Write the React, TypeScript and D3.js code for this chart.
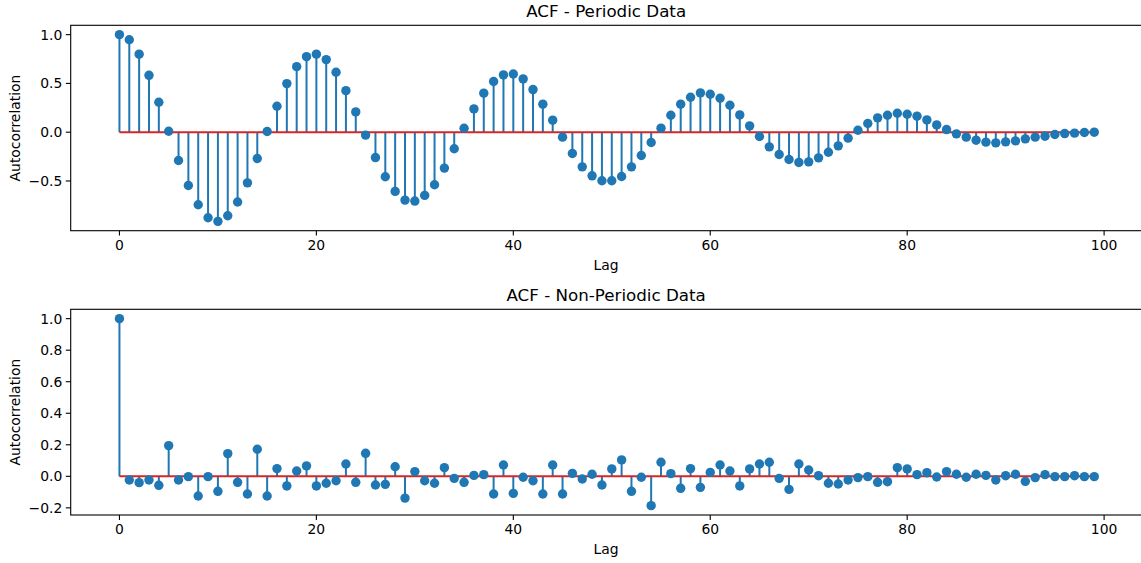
import React from "react";
import * as d3 from "d3";

const lags: number[] = Array.from({ length: 100 }, (_, i) => i);

const periodicAcf: number[] = [
  1.0, 0.948, 0.8, 0.583, 0.307, 0.01, -0.29, -0.546, -0.744, -0.877,
  -0.914, -0.856, -0.716, -0.519, -0.27, 0.007, 0.266, 0.498, 0.672, 0.774,
  0.8, 0.744, 0.614, 0.426, 0.208, -0.03, -0.26, -0.457, -0.607, -0.696,
  -0.706, -0.648, -0.539, -0.368, -0.17, 0.04, 0.239, 0.4, 0.52, 0.587,
  0.597, 0.546, 0.437, 0.287, 0.123, -0.051, -0.218, -0.355, -0.447, -0.498,
  -0.498, -0.454, -0.355, -0.239, -0.106, 0.041, 0.174, 0.287, 0.358, 0.403,
  0.389, 0.348, 0.276, 0.177, 0.065, -0.044, -0.15, -0.229, -0.28, -0.31,
  -0.304, -0.263, -0.206, -0.14, -0.061, 0.02, 0.089, 0.147, 0.174, 0.194,
  0.184, 0.164, 0.126, 0.075, 0.027, -0.017, -0.051, -0.082, -0.102, -0.109,
  -0.099, -0.089, -0.068, -0.051, -0.041, -0.024, -0.014, -0.01, -0.003, 0.0,
];

const nonPeriodicAcf: number[] = [
  1.0, -0.023, -0.04, -0.023, -0.057, 0.195, -0.023, -0.002, -0.125, -0.002,
  -0.095, 0.144, -0.038, -0.112, 0.172, -0.125, 0.049, -0.061, 0.034, 0.066,
  -0.061, -0.044, -0.028, 0.078, -0.038, 0.146, -0.055, -0.051, 0.061, -0.138,
  0.03, -0.028, -0.044, 0.055, -0.013, -0.038, 0.006, 0.011, -0.112, 0.072,
  -0.108, -0.006, -0.028, -0.112, 0.072, -0.112, 0.019, -0.017, 0.013, -0.055,
  0.047, 0.104, -0.095, -0.006, -0.186, 0.089, 0.017, -0.076, 0.049, -0.07,
  0.025, 0.072, 0.034, -0.061, 0.047, 0.078, 0.089, -0.013, -0.083, 0.078,
  0.04, 0.004, -0.044, -0.049, -0.023, -0.008, -0.002, -0.038, -0.034, 0.055,
  0.047, 0.011, 0.023, -0.004, 0.03, 0.013, -0.006, 0.013, 0.006, -0.023,
  0.004, 0.013, -0.032, -0.008, 0.011, -0.002, -0.002, 0.004, -0.002, -0.002,
];

const xTicks: number[] = [0, 20, 40, 60, 80, 100];
const periodicYTicks: number[] = [-0.5, 0.0, 0.5, 1.0];
const nonPeriodicYTicks: number[] = [-0.2, 0.0, 0.2, 0.4, 0.6, 0.8, 1.0];

const FONT = "'DejaVu Sans', sans-serif";
const BLUE = "#1f77b4";
const RED = "#d62728";

type PanelProps = {
  title: string;
  values: number[];
  yTicks: number[];
  top: number;
  bottom: number;
};

function Panel({ title, values, yTicks, top, bottom }: PanelProps) {
  const left = 70.7;
  const right = 1143;
  const xMin = d3.min(lags)!;
  const xMax = d3.max(lags)!;
  const xm = (xMax - xMin) * 0.05;
  const x = d3.scaleLinear().domain([xMin - xm, xMax + xm]).range([left, right]);
  const yMin = d3.min(values)!;
  const yMax = d3.max(values)!;
  const ym = (yMax - yMin) * 0.05;
  const y = d3.scaleLinear().domain([yMin - ym, yMax + ym]).range([bottom, top]);
  const fmt = d3.format(".1f");
  const tl = 4.9;
  const midY = (top + bottom) / 2;
  const midX = (left + 1141.6) / 2;
  const fmtMinus = (v: number) => fmt(v).replace("-", "\u2212");

  return (
    <g>
      <text x={midX} y={top - 8.5} textAnchor="middle" fontSize={16.7} fontFamily={FONT} fill="#000">
        {title}
      </text>
      {lags.map((l, i) => (
        <line key={"s" + i} x1={x(l)} x2={x(l)} y1={y(0)} y2={y(values[i])} stroke={BLUE} strokeWidth={2} />
      ))}
      <line x1={x(xMin)} x2={x(xMax)} y1={y(0)} y2={y(0)} stroke={RED} strokeWidth={2} />
      {lags.map((l, i) => (
        <circle key={"m" + i} cx={x(l)} cy={y(values[i])} r={4.7} fill={BLUE} />
      ))}
      <rect x={left} y={top} width={right - left} height={bottom - top} fill="none" stroke="#000" strokeWidth={1.1} />
      {xTicks.map((t) => (
        <g key={"xt" + t}>
          <line x1={x(t)} x2={x(t)} y1={bottom} y2={bottom + tl} stroke="#000" strokeWidth={1.1} />
          <text x={x(t)} y={bottom + tl + 14.5} textAnchor="middle" fontSize={13.9} fontFamily={FONT} fill="#000">
            {t}
          </text>
        </g>
      ))}
      {yTicks.map((t) => (
        <g key={"yt" + t}>
          <line x1={left - tl} x2={left} y1={y(t)} y2={y(t)} stroke="#000" strokeWidth={1.1} />
          <text x={left - tl - 3.5} y={y(t)} dy="0.35em" textAnchor="end" fontSize={13.9} fontFamily={FONT} fill="#000">
            {fmtMinus(t)}
          </text>
        </g>
      ))}
      <text x={midX} y={bottom + 39} textAnchor="middle" fontSize={13.9} fontFamily={FONT} fill="#000">
        Lag
      </text>
      <text
        x={0}
        y={0}
        transform={`translate(20,${midY}) rotate(-90)`}
        textAnchor="middle"
        fontSize={13.9}
        fontFamily={FONT}
        fill="#000"
      >
        Autocorrelation
      </text>
    </g>
  );
}

export default function App() {
  return (
    <div style={{ position: "absolute", left: 0, top: 0 }}>
      <svg width={1141} height={563} style={{ display: "block", background: "#fff" }}>
        <Panel title="ACF - Periodic Data" values={periodicAcf} yTicks={periodicYTicks} top={25.3} bottom={230.7} />
        <Panel title="ACF - Non-Periodic Data" values={nonPeriodicAcf} yTicks={nonPeriodicYTicks} top={309.3} bottom={515} />
      </svg>
    </div>
  );
}
